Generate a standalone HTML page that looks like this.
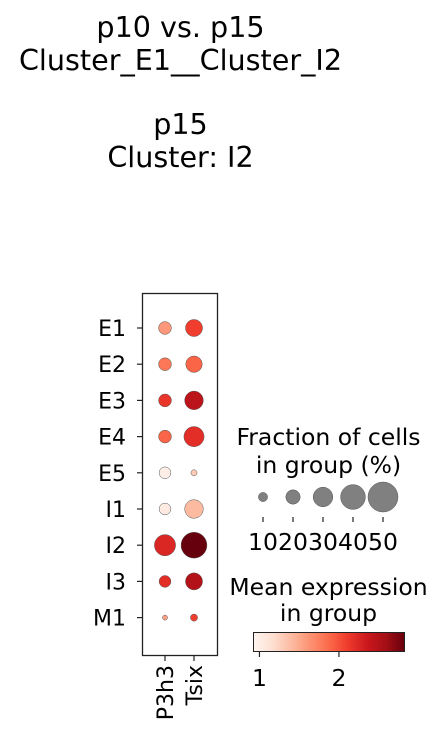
<!DOCTYPE html>
<html><head><meta charset="utf-8"><style>
html,body{margin:0;padding:0;background:#fff}
svg{display:block;font-family:"DejaVu Sans","Liberation Sans",sans-serif}
</style></head><body>
<svg id="chart" width="446" height="743" viewBox="0 0 446 743">
<defs>
<linearGradient id="reds" x1="0" x2="1" y1="0" y2="0">
<stop offset="0" stop-color="#fff5f0"/><stop offset="0.125" stop-color="#fee0d2"/><stop offset="0.25" stop-color="#fcbba1"/><stop offset="0.375" stop-color="#fc9272"/><stop offset="0.5" stop-color="#fb6a4a"/><stop offset="0.625" stop-color="#ef3b2c"/><stop offset="0.75" stop-color="#cb181d"/><stop offset="0.875" stop-color="#a50f15"/><stop offset="1" stop-color="#67000d"/>
</linearGradient>
</defs>
<g font-size="28.6" text-anchor="middle" fill="#000">
<text x="180.5" y="37">p10 vs. p15</text>
<text x="180.5" y="70">Cluster_E1__Cluster_I2</text>
<text x="180.5" y="134">p15</text>
<text x="180.5" y="167">Cluster: I2</text>
</g>
<rect x="142.5" y="293.5" width="75" height="362" fill="none" stroke="#222" stroke-width="1.3"/>
<g id="marks"></g>
<g id="yaxis" font-size="22" text-anchor="end"></g>
<g id="xaxis" font-size="22"></g>
<g>
<text x="328.5" y="445" font-size="23.5" text-anchor="middle">Fraction of cells</text>
<text x="328.5" y="473" font-size="23.5" text-anchor="middle">in group (%)</text>
<g id="sizeleg"></g>
</g>
<g>
<text x="328.5" y="595" font-size="23.5" text-anchor="middle">Mean expression</text>
<text x="328.5" y="621" font-size="23.5" text-anchor="middle">in group</text>
<rect x="253.5" y="632.5" width="151" height="19" fill="url(#reds)" stroke="#222" stroke-width="1"/>
<g id="cbticks"></g>
</g>
</svg>
<script>
const groups=["E1","E2","E3","E4","E5","I1","I2","I3","M1"];
const genes=["P3h3","Tsix"];
const fracP3h3=[17,17,17,17,15,15,33,15,2];
const fracTsix=[25,24,28,31,4,28,42,25,6];
const exprP3h3=[1.6,1.8,2.15,1.9,1.0,1.05,2.25,2.2,1.55];
const exprTsix=[2.1,1.9,2.45,2.2,1.3,1.4,2.85,2.5,2.1];
const sizeLegendVals=[10,20,30,40,50];
const cbTicks=[1,2];
const vmin=0.925, vmax=2.825;
const NS="http://www.w3.org/2000/svg";
const stops=["#fff5f0","#fee0d2","#fcbba1","#fc9272","#fb6a4a","#ef3b2c","#cb181d","#a50f15","#67000d"];
function hex(h){return [1,3,5].map(i=>parseInt(h.substr(i,2),16));}
function cmap(v){let t=Math.max(0,Math.min(1,(v-vmin)/(vmax-vmin)))*8;let i=Math.min(7,Math.floor(t)),f=t-i;
 const a=hex(stops[i]),b=hex(stops[i+1]);return "rgb("+a.map((x,k)=>Math.round(x+(b[k]-x)*f)).join(",")+")";}
function rOf(f){return 2+0.26*f;}
function yOf(i){return 328+i*36.2;}
function xOf(j){return 165+j*29;}
function cbX(v){return 253.5+(v-vmin)/(vmax-vmin)*151;}
function mk(tag,attrs,parent){const e=document.createElementNS(NS,tag);for(const k in attrs)e.setAttribute(k,attrs[k]);parent.appendChild(e);return e;}
const marks=document.getElementById("marks");
const fr=[fracP3h3,fracTsix], ex=[exprP3h3,exprTsix];
groups.forEach((g,i)=>{genes.forEach((gn,j)=>{
 const c=mk("circle",{cx:xOf(j),cy:yOf(i),r:rOf(fr[j][i]),fill:cmap(ex[j][i]),stroke:"#555","stroke-width":0.5},marks);
 
 
});});
const ya=document.getElementById("yaxis");
groups.forEach((g,i)=>{
 const t=mk("line",{x1:137,x2:142,y1:yOf(i),y2:yOf(i),stroke:"#222","stroke-width":1.2},ya);
 
 
 const l=mk("text",{x:126,y:yOf(i)+8},ya);l.textContent=g;
 
 
});
const xa=document.getElementById("xaxis");
genes.forEach((gn,j)=>{
 const t=mk("line",{x1:xOf(j),x2:xOf(j),y1:656,y2:661,stroke:"#222","stroke-width":1.2},xa);
 
 
 const l=mk("text",{x:0,y:0,"text-anchor":"end",transform:"translate("+(xOf(j)+8)+",665) rotate(-90)"},xa);l.textContent=gn;
 
 
});
const sl=document.getElementById("sizeleg");
sizeLegendVals.forEach((v,k)=>{
 const x=263+k*30;
 const c=mk("circle",{cx:x,cy:497,r:rOf(v),fill:"#808080",stroke:"#555","stroke-width":0.5},sl);
 
 
 mk("line",{x1:x,x2:x,y1:517,y2:522,stroke:"#222","stroke-width":1.2},sl);
 const l=mk("text",{x:x,y:550,"font-size":23.5,"text-anchor":"middle"},sl);l.textContent=v;
 
 
});
const cb=document.getElementById("cbticks");
cbTicks.forEach(v=>{
 const x=cbX(v);
 mk("line",{x1:x,x2:x,y1:652,y2:657,stroke:"#222","stroke-width":1.2},cb);
 const l=mk("text",{x:x,y:686,"font-size":23.5,"text-anchor":"middle"},cb);l.textContent=v;
 
 
});
</script>
</body></html>
